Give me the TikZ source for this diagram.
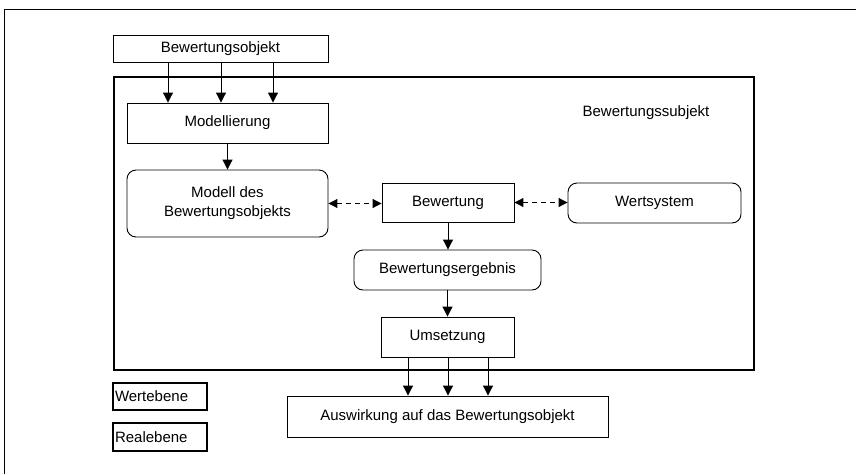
\documentclass[tikz,border=0pt]{standalone}
\usepackage{fontspec}
\setmainfont{Liberation Sans}
\usetikzlibrary{arrows.meta}
\begin{document}
\begin{tikzpicture}[x=1pt,y=-1pt,
  font=\fontsize{15pt}{18pt}\selectfont,
  box/.style={draw, line width=0.9pt, inner sep=0pt, align=center},
  rbox/.style={box, rounded corners=9pt},
  legendbox/.style={draw, line width=1.1pt, inner sep=0pt, align=left,
    text width=90pt, minimum width=94pt},
  arr/.style={line width=1pt, -{Triangle[length=10pt,width=10pt]}},
  darr/.style={line width=1pt, dash pattern=on 5pt off 4pt,
    {Triangle[length=9pt,width=9pt]}-{Triangle[length=9pt,width=9pt]}},
  frame/.style={line width=1.5pt}
]
\useasboundingbox (0,0) rectangle (856,474);

% outer frame: only left and top edges are visible
\draw[frame] (4.5,474) -- (4.5,9.5) -- (856,9.5);

% region of the valuing subject
\node[draw, line width=1.5pt, inner sep=0pt, minimum width=640pt, minimum height=293pt]
  (subj) at (434,223.5) {};
\node (subjlabel) at (646,113) {Bewertungssubjekt};

% boxes
\node[box, minimum width=215pt, minimum height=27pt] (bo) at (220.5,48.5) {Bewertungsobjekt};
\node[box, minimum width=201pt, minimum height=40pt] (mod) at (227.5,123) {Modellierung};
\node[rbox, minimum width=201pt, minimum height=67pt] (mdl) at (227.5,203.5)
  {Modell des\\[1pt]Bewertungsobjekts};
\node[box, minimum width=132pt, minimum height=39pt] (bew) at (448,202.5) {Bewertung};
\node[rbox, minimum width=173pt, minimum height=40pt] (ws) at (654.5,203) {Wertsystem};
\node[rbox, minimum width=187pt, minimum height=40pt] (erg) at (447.5,270) {Bewertungsergebnis};
\node[box, minimum width=133pt, minimum height=40pt] (ums) at (447.5,337) {Umsetzung};
\node[box, minimum width=321pt, minimum height=41pt] (aus) at (447.5,416.5)
  {Auswirkung auf das Bewertungsobjekt};

% legend
\node[legendbox, minimum height=27pt] (we) at (160,396.5) {Wertebene};
\node[legendbox, minimum height=28pt] (re) at (160,437) {Realebene};

% connectors
\foreach \xx in {168,221,273}
  \draw[arr] (bo.south -| \xx,0) -- (mod.north -| \xx,0);
\draw[arr] (mod.south) -- (mdl.north);
\draw[darr] (mdl.east) -- (bew.west |- mdl.east);
\draw[darr] (bew.east) -- (ws.west |- bew.east);
\draw[arr] (bew.south) -- (bew.south |- erg.north);
\draw[arr] (erg.south) -- (ums.north);
\foreach \xx in {408,448,488}
  \draw[arr] (ums.south -| \xx,0) -- (aus.north -| \xx,0);
\end{tikzpicture}
\end{document}
